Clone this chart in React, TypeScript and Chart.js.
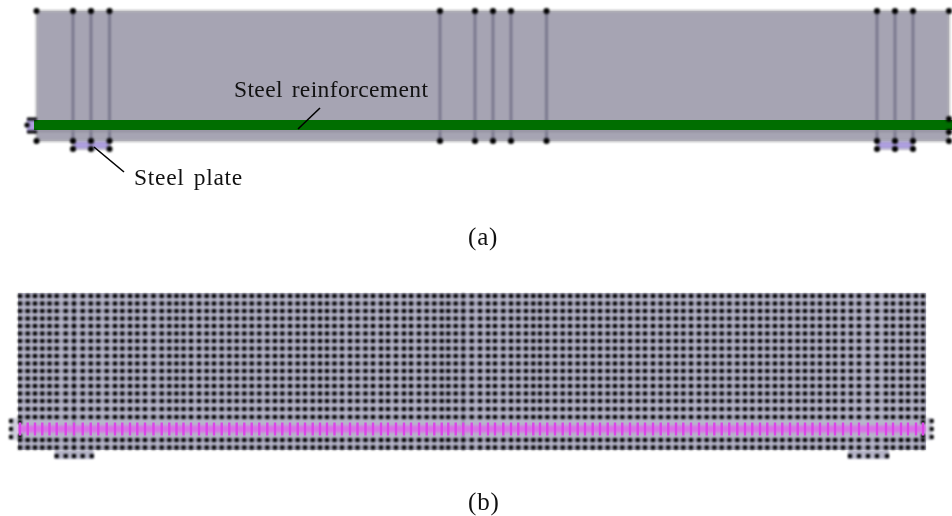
import React, { useEffect, useRef } from "react";
import { Chart, registerables } from "chart.js";

Chart.register(...registerables);

// ---- panel (a): geometry stations
const sectionXs = [36.5, 73, 91, 109.5, 440, 475, 493, 511, 546.5, 877, 895, 913, 949];
const beamTopY = 11;
const beamBottomY = 141;
const plateBottomY = 149;
const leftPlateXs = [73, 91, 109.5];
const rightPlateXs = [877, 895, 913];
const rebarY = 125;
const rebarXs = [34, 952];
const rebarLowerEdgeY = 131;
const anchorXs = [27, 37];
const anchorYs = [119, 132];
const leaderRebarXs = [298, 320];
const leaderRebarYs = [129, 108];
const leaderPlateXs = [94, 124];
const leaderPlateYs = [147, 172];

// ---- panel (b): mesh stations
const meshXs = [
  20, 27.7, 35, 42.3, 49.5, 56.7, 65.7, 74, 82.7, 90.7, 98.3, 106.7, 115, 122.3, 130, 137.3, 145, 153.5,
  161.7, 169.3, 176.5, 183.5, 191, 199, 206.7, 214, 221.7, 229.3, 236.7, 244.3, 251.7, 259.3, 267.3, 275,
  282.3, 290, 297.7, 305, 312.7, 320, 327, 334.5, 342, 350, 357.5, 365.5, 373, 381, 388, 396, 404, 411,
  419, 426.7, 434.3, 441.7, 448.3, 455.7, 463.3, 471.7, 480, 488, 495, 503.3, 511, 518.3, 526, 533.3, 540,
  547.3, 555, 562.7, 570, 577.7, 585, 592.7, 600, 607.7, 615, 622.3, 630, 637.7, 645, 653, 660.7, 668.3,
  676, 683.3, 691, 699, 706.7, 714.3, 721.7, 729.3, 737.3, 745, 752.3, 760, 767.3, 775, 782.3, 790, 797.7,
  805, 812.5, 820, 828, 835, 843, 851, 859, 868, 877, 886, 893, 901, 908, 916, 923,
];
const meshRows = [
  296, 303.5, 311, 318.5, 326, 333.5, 341, 348.5, 356, 363.5, 371, 378.5, 386, 393.5, 401, 409, 417, 440, 447.5,
];
const rebarRowY = 429;
const plateRowY = 456;
const leftPadXs = [56.7, 65.7, 74, 82.7, 91.7];
const rightPadXs = [850, 859, 868, 877, 887];
const sideNodeYs = [421, 429, 437];
const sideNodeXs = [11, 931.7];
const edgeNodeXs = [20, 923];
const edgeNodeYs = [422, 436];
const meshLeft = 18;
const meshRight = 926;
const meshTop = 293;
const meshBottom = 450;
const padBottom = 459;
const darkMeshXs = [74, 463.3];

// ---- text
const labels = [
  { text: "Steel reinforcement", x: 234, y: 97, size: 23.5, spacing: 0.38, word: 2.5 },
  { text: "Steel plate", x: 134, y: 185, size: 23.5, spacing: 0.72, word: 2.5 },
  { text: "(a)", x: 468, y: 245, size: 25, spacing: 0.8, word: 0 },
  { text: "(b)", x: 468, y: 510, size: 25, spacing: 0.8, word: 0 },
];

type P = { x: number; y: number };
const cross = (xs: number[], ys: number[]): P[] => xs.flatMap((x) => ys.map((y) => ({ x, y })));
const box = (x0: number, x1: number, y0: number, y1: number): P[] => [
  { x: x0, y: y0 },
  { x: x1, y: y0 },
  { x: x1, y: y1 },
  { x: x0, y: y1 },
  { x: x0, y: y0 },
];
const zip = (xs: number[], ys: number[]): P[] => xs.map((x, i) => ({ x, y: ys[i] }));

const area = (data: P[], fill: string, border = "rgba(0,0,0,0)", width = 0) => ({
  data,
  showLine: true,
  fill: "shape" as const,
  backgroundColor: fill,
  borderColor: border,
  borderWidth: width,
  pointRadius: 0,
  tension: 0,
});
const stroke = (data: P[], color: string, width: number, label = "") => ({
  label,
  data,
  showLine: true,
  fill: false,
  borderColor: color,
  borderWidth: width,
  pointRadius: 0,
  tension: 0,
});
const dots = (data: P[], radius: number, color = "#000", style = "circle") => ({
  data,
  showLine: false,
  pointRadius: radius,
  pointStyle: style,
  pointBackgroundColor: color,
  pointBorderColor: color,
  pointBorderWidth: 0,
});

const softPlugin = {
  id: "soft",
  beforeDatasetDraw(chart: Chart, args: { index: number }) {
    chart.ctx.filter = chart.data.datasets[args.index].label === "crisp" ? "none" : "blur(0.8px)";
  },
  afterDatasetsDraw(chart: Chart) {
    chart.ctx.filter = "none";
  },
};

const textPlugin = {
  id: "texts",
  afterDraw(chart: Chart) {
    const ctx = chart.ctx as CanvasRenderingContext2D & { letterSpacing: string; wordSpacing: string };
    ctx.save();
    ctx.fillStyle = "#111";
    ctx.textBaseline = "alphabetic";
    for (const l of labels) {
      ctx.font = `${l.size}px "Liberation Serif"`;
      ctx.letterSpacing = `${l.spacing}px`;
      ctx.wordSpacing = `${l.word}px`;
      ctx.fillText(l.text, l.x, l.y);
    }
    ctx.restore();
  },
};

export default function App() {
  const ref = useRef<HTMLCanvasElement>(null);
  useEffect(() => {
    document.body.style.margin = "0";
    document.body.style.background = "#fff";
    const bottomToTop = [
      // panel (a)
      area(box(sectionXs[0], sectionXs[12], beamTopY, beamBottomY), "#a6a4b3", "#b6b6ba", 2),
      area(box(leftPlateXs[0], leftPlateXs[2], beamBottomY, plateBottomY), "#ae9fdf", "#9a9aa4", 1),
      area(box(rightPlateXs[0], rightPlateXs[2], beamBottomY, plateBottomY), "#ae9fdf", "#9a9aa4", 1),
      area(box(anchorXs[0], anchorXs[1], anchorYs[0], anchorYs[1]), "#ae9fdf"),
      ...sectionXs.slice(1, 12).map((x) => stroke(cross([x], [beamTopY, beamBottomY]), "#75748a", 2.6)),
      stroke(zip(rebarXs, [rebarLowerEdgeY, rebarLowerEdgeY]), "#8b8a98", 1.5),
      stroke(zip(rebarXs, [rebarY, rebarY]), "#006e00", 10, "crisp"),
      dots(cross(sectionXs, [beamTopY, beamBottomY]), 3),
      dots(cross([...leftPlateXs, ...rightPlateXs], [plateBottomY]), 3),
      stroke(zip(anchorXs, [anchorYs[0], anchorYs[0]]), "#000", 3),
      stroke(zip(anchorXs, [anchorYs[1], anchorYs[1]]), "#000", 3),
      dots(cross([anchorXs[0]], [rebarY]), 2.6),
      dots(cross([sectionXs[12]], anchorYs), 3),
      stroke(zip(leaderRebarXs, leaderRebarYs), "#000", 1.6, "crisp"),
      stroke(zip(leaderPlateXs, leaderPlateYs), "#000", 1.6, "crisp"),
      // panel (b)
      area(box(meshLeft, meshRight, meshTop, meshBottom), "#b6b5c9"),
      area(box(leftPadXs[0] - 2, leftPadXs[4] + 2, meshBottom, padBottom), "#b6b5c9"),
      area(box(rightPadXs[0] - 2, rightPadXs[4] + 2, meshBottom, padBottom), "#b6b5c9"),
      area(box(sideNodeXs[0] - 1, meshLeft, sideNodeYs[0] - 3, sideNodeYs[2] + 3), "#cfcedb"),
      area(box(meshRight, sideNodeXs[1] + 1, sideNodeYs[0] - 3, sideNodeYs[2] + 3), "#cfcedb"),
      ...darkMeshXs.map((x) => stroke(cross([x], [meshTop, meshBottom]), "#85849a", 1.5)),
      ...meshRows.map((y) => stroke(zip([meshLeft + 2, meshRight - 3], [y, y]), "#8f8ea2", 2)),
      dots(cross(meshXs, meshRows), 2.9, "#000", "rect"),
      dots(cross(leftPadXs, [plateRowY]), 2.9, "#000", "rect"),
      dots(cross(rightPadXs, [plateRowY]), 2.9, "#000", "rect"),
      dots(cross(sideNodeXs, sideNodeYs), 2.8, "#000", "rect"),
      dots(cross(edgeNodeXs, edgeNodeYs), 2.8, "#000", "rect"),
      stroke(zip([meshLeft, meshRight], [rebarRowY, rebarRowY]), "#d872e6", 7),
      {
        label: "crisp",
        data: cross(meshXs, [rebarRowY]),
        showLine: false,
        pointStyle: "line",
        pointRotation: 90,
        pointRadius: 6.5,
        pointBorderWidth: 2.4,
        pointBorderColor: "#dc45e9",
      },
    ];
    const chart = new Chart(ref.current!, {
      type: "scatter",
      data: {
        // Chart.js paints the first dataset last
        datasets: bottomToTop.reverse() as never,
      },
      options: {
        animation: false,
        responsive: false,
        devicePixelRatio: 1,
        layout: { padding: 0, autoPadding: false },
        plugins: { legend: { display: false }, tooltip: { enabled: false } },
        scales: {
          x: { type: "linear", display: false, min: 0, max: 952 },
          y: { type: "linear", display: false, min: 0, max: 516, reverse: true },
        },
      },
      plugins: [softPlugin, textPlugin],
    });
    return () => chart.destroy();
  }, []);
  return (
    <div style={{ position: "fixed", left: 0, top: 0, width: 952, height: 516 }}>
      <canvas ref={ref} width={952} height={516} style={{ display: "block" }} />
    </div>
  );
}
